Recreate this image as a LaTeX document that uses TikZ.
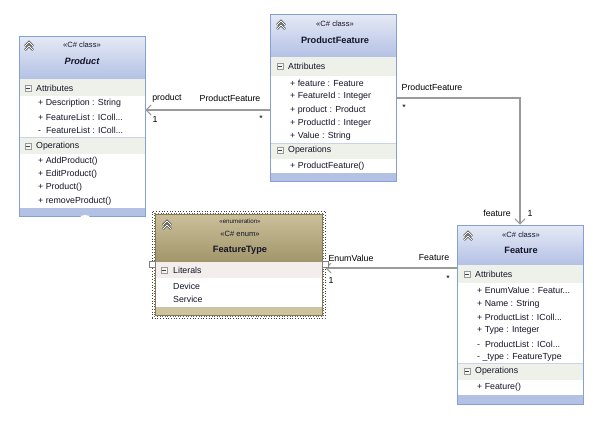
\documentclass[tikz,border=0pt]{standalone}
\usepackage{fontspec}
\setmainfont{Liberation Sans}
\usetikzlibrary{arrows.meta}
\definecolor{cbord}{HTML}{86A0D4}
\definecolor{chtop}{HTML}{E6EAF6}
\definecolor{chbot}{HTML}{B3C1E4}
\definecolor{ccomp}{HTML}{EEF1EA}
\definecolor{csep}{HTML}{C9D3EA}
\definecolor{ebord}{HTML}{84784F}
\definecolor{ehtop}{HTML}{CBC09A}
\definecolor{ehbot}{HTML}{A1956A}
\definecolor{ecomp}{HTML}{F3EDEB}
\definecolor{estrip}{HTML}{CDC39E}
\definecolor{connc}{HTML}{9A9A9A}
\definecolor{tcol}{HTML}{141428}
\tikzset{
 txt/.style={anchor=west, inner sep=0pt, text=tcol, font=\fontsize{8.8}{10}\selectfont},
 stereo/.style={inner sep=0pt, text=tcol, font=\fontsize{7.6}{9}\selectfont},
 smallstereo/.style={inner sep=0pt, text=tcol, font=\fontsize{6.2}{7}\selectfont},
 title/.style={inner sep=0pt, text=tcol, font=\fontsize{9.2}{11}\selectfont\bfseries},
 lbl/.style={inner sep=0pt, font=\fontsize{8.8}{10}\selectfont},
 connector/.style={draw=connc, line width=1.1pt, -{Straight Barb[length=5pt,width=10pt,line width=1pt]}},
 boxframe/.style={draw=cbord, line width=0.9pt, inner sep=0pt, fill=white},
 handle/.style={draw=gray, fill=white, line width=0.6pt, minimum size=6pt, inner sep=0pt},
 minusbox/.pic={\draw[gray!80,fill=gray!8,line width=0.4pt](-3,-3) rectangle (3,3);
   \draw[gray!50!black,line width=0.7pt](-1.8,0)--(1.8,0);},
 chevron/.pic={\draw[gray!55!black, line width=2.4pt, line join=miter] (-4,1)--(0,-3)--(4,1) (-4,5)--(0,1)--(4,5);
   \draw[white, line width=0.9pt, line join=miter] (-4,1)--(0,-3)--(4,1) (-4,5)--(0,1)--(4,5);},
}
\begin{document}
\begin{tikzpicture}[x=1pt,y=-1pt]
\useasboundingbox (0,0) rectangle (593,437);
\fill[white] (0,0) rectangle (593,437);

% ================= Product =================
\node[boxframe, minimum width=126pt, minimum height=180pt] (product) at (82,126) {};
\fill[top color=chtop, bottom color=chbot] (19,36) rectangle (145,79);
\fill[ccomp] (19,79) rectangle (145,96);
\fill[ccomp] (19,137) rectangle (145,154);
\draw[csep, line width=0.6pt] (19,137) -- (145,137);
\fill[chbot] (19,208) rectangle (145,216);
\draw[cbord, line width=0.9pt] (19,36) rectangle (145,216);
\fill[white] (85,217.5) ellipse (5 and 2.5);
\pic at (29,45) {chevron};
\node[stereo] (pst) at (82,45) {«C\# class»};
\node[title, font=\fontsize{9.2}{11}\selectfont\bfseries\itshape] (ptitle) at (82,61) {Product};
\pic at (28,88) {minusbox};
\node[txt] (pattr) at (36,88) {Attributes};
\node[txt] (pa1) at (38,103) {+ Description : String};
\node[txt] (pa2) at (38,117) {+ FeatureList : IColl...};
\node[txt] (pa3) at (38,130) {-\ \ FeatureList : IColl...};
\pic at (28,146) {minusbox};
\node[txt] (pops) at (36,146) {Operations};
\node[txt] (po1) at (38,161) {+ AddProduct()};
\node[txt] (po2) at (38,174) {+ EditProduct()};
\node[txt] (po3) at (38,187) {+ Product()};
\node[txt] (po4) at (38,201) {+ removeProduct()};

% ================= ProductFeature =================
\node[boxframe, minimum width=126pt, minimum height=167pt] (pf) at (333,97.5) {};
\fill[top color=chtop, bottom color=chbot] (270,14) rectangle (396,57);
\fill[ccomp] (270,57) rectangle (396,76);
\fill[ccomp] (270,143) rectangle (396,159);
\draw[csep, line width=0.6pt] (270,143) -- (396,143);
\fill[chbot] (270,173) rectangle (396,181);
\draw[cbord, line width=0.9pt] (270,14) rectangle (396,181);
\pic at (281,24) {chevron};
\node[stereo] (pfst) at (335,24) {«C\# class»};
\node[title] (pftitle) at (335,40) {ProductFeature};
\pic at (280,66) {minusbox};
\node[txt] (pfattr) at (288,66) {Attributes};
\node[txt] (pfa1) at (290,83) {+ feature : Feature};
\node[txt] (pfa2) at (290,96) {+ FeatureId : Integer};
\node[txt] (pfa3) at (290,110) {+ product : Product};
\node[txt] (pfa4) at (290,123) {+ ProductId : Integer};
\node[txt] (pfa5) at (290,136) {+ Value : String};
\pic at (280,150) {minusbox};
\node[txt] (pfops) at (288,150) {Operations};
\node[txt] (pfo1) at (290,166) {+ ProductFeature()};

% ================= Feature =================
\node[boxframe, minimum width=126pt, minimum height=179pt] (feature) at (520,314.5) {};
\fill[top color=chtop, bottom color=chbot] (457,225) rectangle (583,265);
\fill[ccomp] (457,265) rectangle (583,283);
\fill[ccomp] (457,363) rectangle (583,380);
\draw[csep, line width=0.6pt] (457,363) -- (583,363);
\fill[chbot] (457,395) rectangle (583,404);
\draw[cbord, line width=0.9pt] (457,225) rectangle (583,404);
\pic at (468,235) {chevron};
\node[stereo] (fst) at (521,235) {«C\# class»};
\node[title] (ftitle) at (521,250) {Feature};
\pic at (467,274) {minusbox};
\node[txt] (fattr) at (475,274) {Attributes};
\node[txt] (fa1) at (477,290) {+ EnumValue : Featur...};
\node[txt] (fa2) at (477,304) {+ Name : String};
\node[txt] (fa3) at (477,317) {+ ProductList : IColl...};
\node[txt] (fa4) at (477,330) {+ Type : Integer};
\node[txt] (fa5) at (477,344) {-\ \ ProductList : ICol...};
\node[txt] (fa6) at (477,357) {- \_type : FeatureType};
\pic at (467,371) {minusbox};
\node[txt] (fops) at (475,371) {Operations};
\node[txt] (fo1) at (477,387) {+ Feature()};

% ================= FeatureType (enum) =================
\node[draw=black!75, dotted, line width=0.7pt, minimum width=173pt, minimum height=107pt, inner sep=0pt] (ftype) at (238.5,264.5) {};
\draw[black!60, dotted, line width=0.6pt] (153.8,212.8) rectangle (323.2,316.2);
\fill[white] (155,214) rectangle (322,315);
\fill[top color=ehtop, bottom color=ehbot] (155,214) rectangle (322,262);
\fill[ecomp] (155,262) rectangle (322,278);
\fill[estrip] (155,307) rectangle (322,315);
\draw[ebord, line width=0.9pt] (155,214) rectangle (322,315);
\pic at (167,224) {chevron};
\node[smallstereo] (est1) at (240,221) {«enumeration»};
\node[stereo] (est2) at (240,234) {«C\# enum»};
\node[title] (etitle) at (240,250) {FeatureType};
\pic at (164,270) {minusbox};
\node[txt] (elit) at (173,270) {Literals};
\node[txt] (el1) at (173,286) {Device};
\node[txt] (el2) at (173,299) {Service};

% ================= Connectors =================
\draw[connector] (pf.west |- 0,110) -- (product.east |- 0,110);
\draw[connector] (pf.east |- 0,98) -| (520,0 |- feature.north);
\draw[connector] (feature.west |- 0,268) -- (ftype.east |- 0,268);
\node[handle] (hl) at (152,264) {};
\node[handle] (hr) at (325,264) {};

% labels
\node[lbl] (l1) at (167,98) {product};
\node[lbl] (l2) at (230,98) {ProductFeature};
\node[lbl] (l3) at (155,119) {1};
\node[lbl] (l4) at (261,118) {*};
\node[lbl] (l5) at (432,87) {ProductFeature};
\node[lbl] (l6) at (404,107) {*};
\node[lbl] (l7) at (497,213) {feature};
\node[lbl] (l8) at (530,213) {1};
\node[lbl] (l9) at (351,258) {EnumValue};
\node[lbl] (l10) at (434,258) {Feature};
\node[lbl] (l11) at (331,280) {1};
\node[lbl] (l12) at (448,278) {*};
\end{tikzpicture}
\end{document}
